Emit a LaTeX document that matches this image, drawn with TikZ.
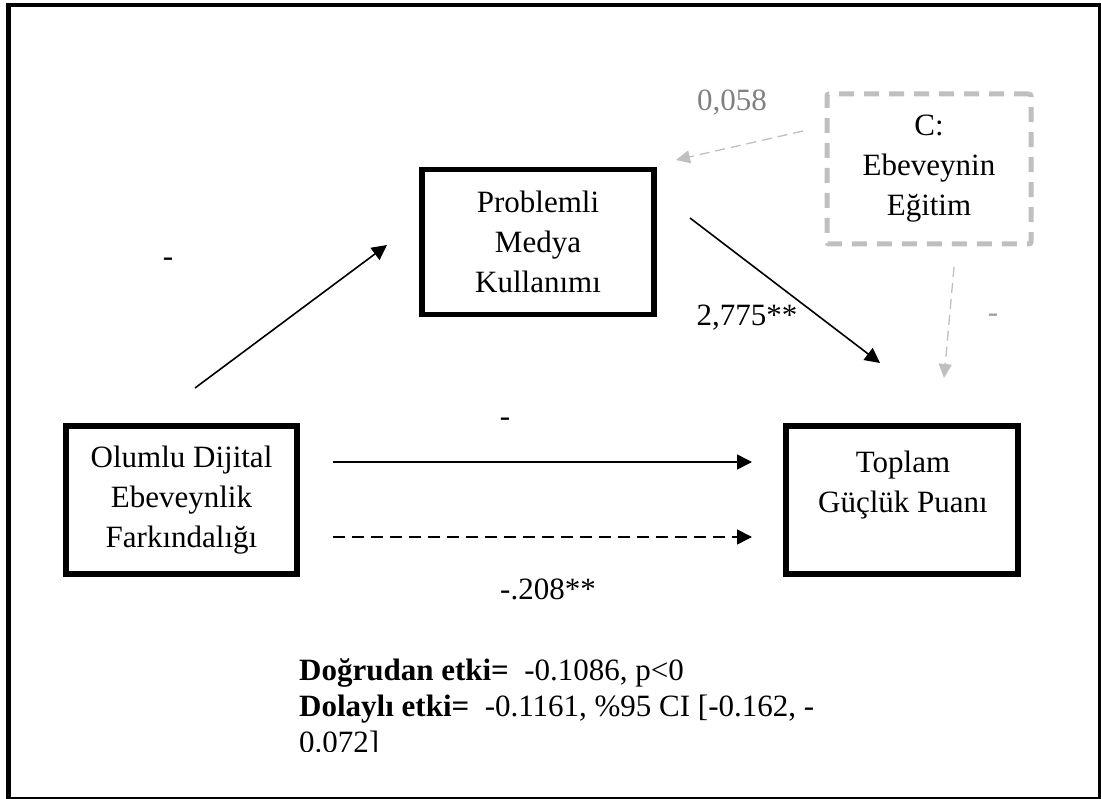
\documentclass[tikz,border=0pt]{standalone}
\usepackage{fontspec}
\setmainfont{Liberation Serif}
\usetikzlibrary{arrows.meta}
\definecolor{lgray}{RGB}{191,191,191}
\definecolor{tgray}{RGB}{128,128,128}
\definecolor{mgray}{RGB}{160,160,160}
\begin{document}
\begin{tikzpicture}[x=1pt,y=-1pt,
  every node/.style={font=\fontsize{31}{40}\selectfont, inner sep=0pt},
  box/.style={draw, line width=5.5pt, rectangle, align=center},
  cbox/.style={draw=lgray, line width=5pt, dash pattern=on 15pt off 10pt, rectangle, align=center, rounded corners=2pt},
  arr/.style={line width=1.6pt, -{Triangle[length=15pt,width=15pt]}},
  darr/.style={arr, dash pattern=on 12pt off 7pt},
  garr/.style={draw=lgray, line width=1.3pt, dash pattern=on 10pt off 6pt, -{Triangle[length=14pt,width=13pt]}},
  lbl/.style={},
  glbl/.style={text=tgray},
  hlbl/.style={text=mgray}
]
\useasboundingbox (0,0) rectangle (1101,799);
% outer frame
\draw[line width=4.5pt] (8.5,5) rectangle (1100,799);

% boxes
\node[box, minimum width=231pt, minimum height=148pt] (x) at (181.5,500) {Olumlu Dijital\\Ebeveynlik\\Farkındalığı};
\node[box, minimum width=232pt, minimum height=145pt] (m) at (538,242) {Problemli\\Medya\\Kullanımı};
\node[box, minimum width=232pt, minimum height=148pt] (y) at (902,500) {};
\node (ytext) at (903,485) [align=center] {Toplam\\Güçlük Puanı};
\node[cbox, minimum width=204pt, minimum height=150pt] (c) at (929,169) {C:\\Ebeveynin\\Eğitim};

% connector end points
\coordinate (xm1) at (195,388);
\coordinate (xm2) at (387,245);
\coordinate (my1) at (690,218);
\coordinate (my2) at (880,363);
\coordinate (xy1) at (333,462);
\coordinate (xy2) at (752,462);
\coordinate (xyd1) at (333,537);
\coordinate (xyd2) at (752,537);
\coordinate (cm1) at (803,131);
\coordinate (cm2) at (676,160);
\coordinate (cy1) at (954,267);
\coordinate (cy2) at (944,378);

\draw[arr] (xm1) -- (xm2);
\draw[arr] (my1) -- (my2);
\draw[arr] (xy1) -- (xy2);
\draw[darr] (xyd1) -- (xyd2);
\draw[garr] (cm1) -- (cm2);
\draw[garr] (cy1) -- (cy2);

% labels
\node[lbl] (l1) at (168,262) {-};
\node[glbl] (l2) at (732,103) {0,058};
\node[lbl] (l3) at (747,318) {2,775**};
\node[hlbl] (l4) at (993,318) {-};
\node[lbl] (l5) at (505,422) {-};
\node[lbl] (l6) at (548,589) {-.208**};

% effects text
\begin{scope}
\clip (0,0) rectangle (1101,751);
\node[anchor=north west, align=left, font=\fontsize{31}{36}\selectfont] (eff) at (299,658)
  {\textbf{Doğrudan etki=}\ \ -0.1086, p<0\\\textbf{Dolaylı etki=}\ \ -0.1161, \%95 CI [-0.162, -\\0.072]};
\end{scope}
\end{tikzpicture}
\end{document}
